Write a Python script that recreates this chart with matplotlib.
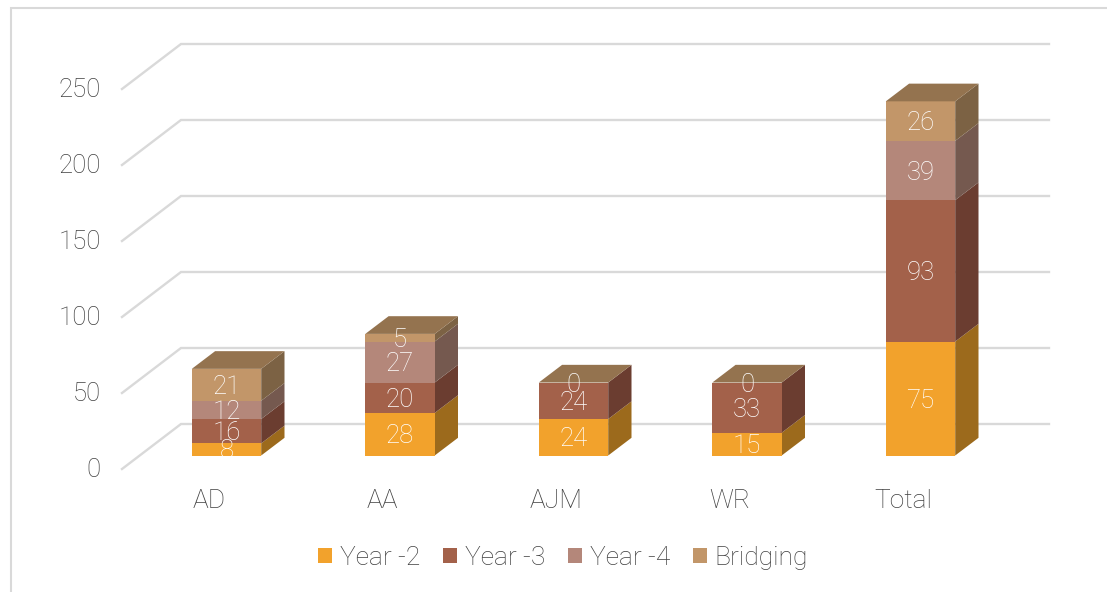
import matplotlib
matplotlib.use('Agg')
from matplotlib import pyplot as plt
from matplotlib.lines import Line2D
from matplotlib.patches import Polygon, Patch, Rectangle

plt.rcParams['font.family'] = ['Roboto', 'DejaVu Sans']
plt.rcParams['font.weight'] = 'light'

categories = ['AD', 'AA', 'AJM', 'WR', 'Total']
year2 = [8, 28, 24, 15, 75]
year3 = [16, 20, 24, 33, 93]
year4 = [12, 27, 0, 0, 39]
bridging = [21, 5, 0, 0, 26]
yticks = [0, 50, 100, 150, 200, 250]
series_names = ['Year -2', 'Year -3', 'Year -4', 'Bridging']

front_cols = ['#F2A22C', '#A3614A', '#B4877A', '#C29669']
side_cols = ['#9C6A1C', '#6B3D30', '#75594F', '#7C6244']
top_col = '#94734F'
grid_col = '#D9D9D9'
text_col = '#404040'
W, H = 1107, 592

# axes fill the figure, scales are chosen so a unit is one category / one value
px_x = 173.5
px_y = 1.52
x0 = 226.5
y0 = 455.5
label_drop = 2 / px_y

fig = plt.figure(figsize=(W / 100, H / 100), dpi=100)
ax = fig.add_axes([0, 0, 1, 1])
ax.set_xlim(-x0 / px_x, (W - x0) / px_x)
ax.set_ylim(-(H - y0) / px_y, y0 / px_y)
ax.axis('off')

# outer frame of the chart, only left and top show
fig.add_artist(Line2D([10.5 / W, 10.5 / W, 1], [0, 1 - 8 / H, 1 - 8 / H], transform=fig.transFigure,
                      color=grid_col, lw=1.5, solid_joinstyle='miter'))

# floor/wall gridlines, front edge to back wall
bw = 0.2
dep_x = 23.3 / px_x
dep_y = 17.7 / px_y
wall_x0 = (122 - x0) / px_x
wall_x1 = (181 - x0) / px_x
wall_x2 = (1049 - x0) / px_x
wall_v0 = -13.5 / px_y
wall_v1 = 31.5 / px_y
for v in yticks:
    ax.plot([wall_x0, wall_x1, wall_x2], [v + wall_v0, v + wall_v1, v + wall_v1],
            color=grid_col, lw=1.7, solid_joinstyle='miter', zorder=1)
    ax.text((101 - x0) / px_x, v + wall_v0 + 0.5 - label_drop, str(v), ha='right', va='center',
            fontsize=18.5, color=text_col)

series = [year2, year3, year4, bridging]
for i, cat in enumerate(categories):
    base = 0
    l = i - bw
    r = i + bw
    for s, vals in enumerate(series):
        val = vals[i]
        if val == 0:
            continue
        ax.add_patch(Rectangle((l, base), 2 * bw, val, fc=front_cols[s], ec='none', zorder=3))
        ax.add_patch(Polygon([(r, base), (r + dep_x, base + dep_y),
                              (r + dep_x, base + val + dep_y), (r, base + val)],
                             fc=side_cols[s], ec='none', zorder=2))
        base += val
    ax.add_patch(Polygon([(l, base), (l + dep_x, base + dep_y),
                          (r + dep_x, base + dep_y), (r, base)],
                         fc=top_col, ec='none', zorder=3))
    clip = Rectangle((l, 0), 2 * bw, 400, transform=ax.transData)
    base = 0
    for s, vals in enumerate(series):
        val = vals[i]
        # zero segments sit on top of each other, one label is enough
        if val > 0 or s == 3:
            t = ax.text(i, base + val / 2 - label_drop, str(val), ha='center', va='center',
                        fontsize=18.5, color='white', zorder=5)
            t.set_clip_path(clip)
        base += val
    ax.text(i - 0.1, -28.6 - label_drop, cat, ha='center', va='center', fontsize=19, color=text_col)

handles = [Patch(fc=c, ec='none', label=n) for c, n in zip(front_cols, series_names)]
fig.legend(handles=handles, loc='center', bbox_to_anchor=(563 / W, 1 - 558 / H), ncols=4,
           frameon=False, fontsize=19, labelcolor=text_col, handlelength=0.52, handleheight=0.52,
           handletextpad=0.3, columnspacing=0.87)

fig.savefig('out.png', dpi=100)
